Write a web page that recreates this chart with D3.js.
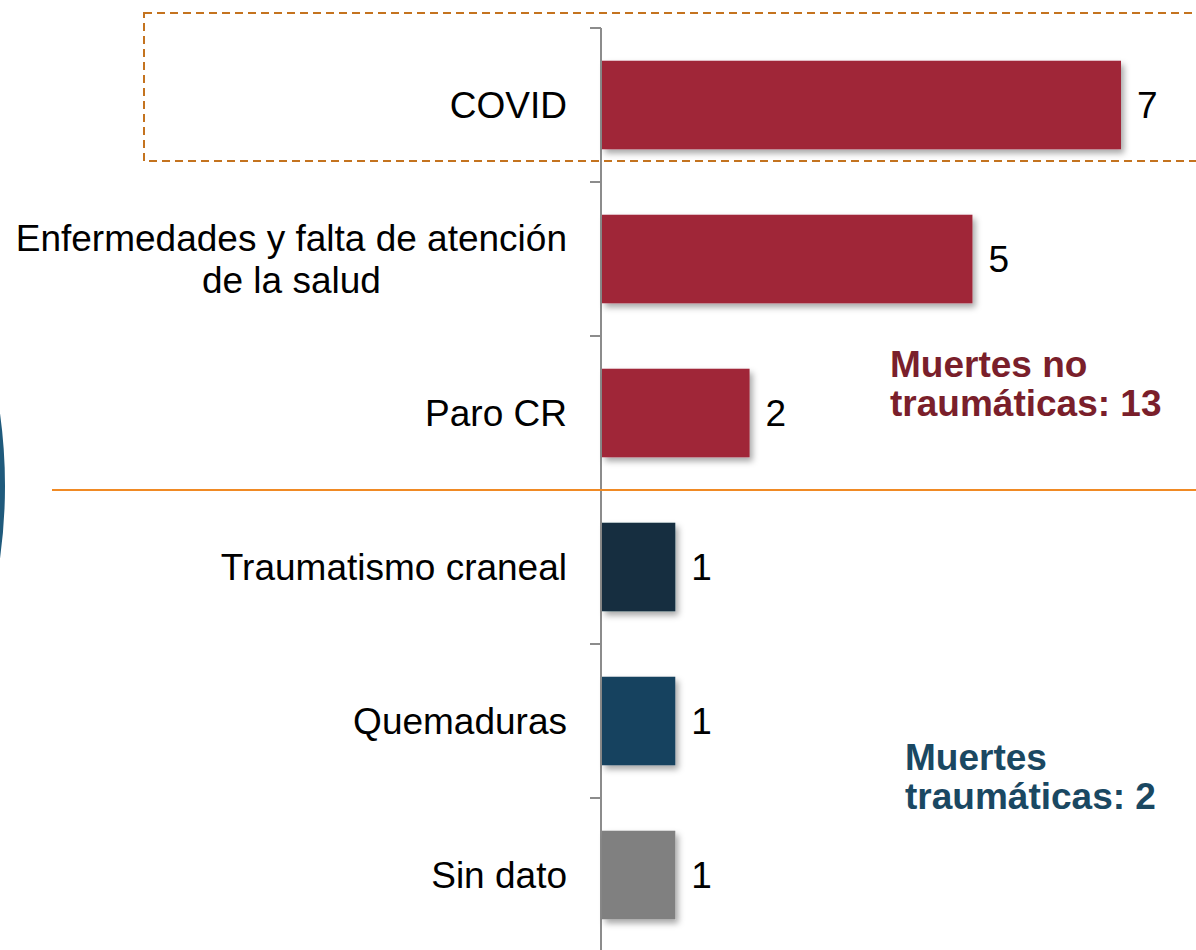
<!DOCTYPE html>
<html lang="es">
<head>
<meta charset="UTF-8">
<title>Causas de muerte</title>
<script src="https://d3js.org/d3.v7.min.js"></script>
<style>
  body { margin: 0; background: #fff; }
  svg text { font-family: "Liberation Sans", Arial, sans-serif; }
</style>
</head>
<body>
<div id="chart"></div>
<script>
// data
const causes = ["COVID", "Enfermedades y falta de atención\nde la salud", "Paro CR",
                "Traumatismo craneal", "Quemaduras", "Sin dato"];
const deaths = [7, 5, 2, 1, 1, 1];
const barColors = ["#a02838", "#a02838", "#a02838", "#122d40", "#17435e", "#808080"];
const groupNotes = [
  { lines: ["Muertes no", "traumáticas: 13"], color: "#7a1f2b", x: 890, y: 377 },
  { lines: ["Muertes", "traumáticas: 2"], color: "#1a4862", x: 905, y: 770 }
];

const width = 1196, height = 950;
const axisX = 601;

const svg = d3.select("#chart").append("svg")
  .attr("width", width).attr("height", height);

// shadow for bars
const defs = svg.append("defs");
const f = defs.append("filter").attr("id", "shadow")
  .attr("x", "-10%").attr("y", "-10%").attr("width", "130%").attr("height", "130%");
f.append("feDropShadow").attr("dx", 3).attr("dy", 4).attr("stdDeviation", 3)
  .attr("flood-color", "#000").attr("flood-opacity", 0.35);

const y = d3.scaleBand().domain(causes).range([28, 28 + 154 * causes.length]).padding(0);
const x = d3.scaleLinear().domain([0, 7]).range([axisX, 1121]);

// blue arc at the left edge (edge of a shape off the page)
svg.append("circle")
  .attr("cx", -518).attr("cy", 486).attr("r", 520)
  .attr("fill", "none").attr("stroke", "#1f5a7c").attr("stroke-width", 6);

// dashed highlight box around COVID
svg.append("rect")
  .attr("x", 144).attr("y", 13).attr("width", 1070).attr("height", 148)
  .attr("fill", "none").attr("stroke", "#c4731f").attr("stroke-width", 2)
  .attr("stroke-dasharray", "8,5");

// axis
const axis = svg.append("g").attr("transform", `translate(${axisX},0)`);
axis.append("line").attr("y1", 28).attr("y2", height)
  .attr("stroke", "#8c8c8c").attr("stroke-width", 2);
axis.selectAll(".tick").data(d3.range(causes.length + 1)).join("line")
  .attr("x1", -11).attr("x2", 0)
  .attr("y1", i => 28 + y.step() * i).attr("y2", i => 28 + y.step() * i)
  .attr("stroke", "#8c8c8c").attr("stroke-width", 2);

// bars
const barH = y.bandwidth() * 0.575;
svg.selectAll(".bar").data(deaths).join("rect")
  .attr("x", x(0) + 1)
  .attr("y", (d, i) => y(causes[i]) + (y.bandwidth() - barH) / 2)
  .attr("width", d => x(d) - x(0) - 1)
  .attr("height", barH)
  .attr("fill", (d, i) => barColors[i])
  .attr("filter", "url(#shadow)");

// values
svg.selectAll(".val").data(deaths).join("text")
  .attr("x", d => x(d) + 16)
  .attr("y", (d, i) => y(causes[i]) + y.bandwidth() / 2 + 13)
  .attr("font-size", 37).attr("fill", "#000")
  .text(d => d);

// category labels
causes.forEach((c, i) => {
  const lines = c.split("\n");
  const cy = y(c) + y.bandwidth() / 2;
  const t = svg.append("text").attr("font-size", 37).attr("fill", "#000");
  lines.forEach((l, j) => {
    t.append("tspan").attr("y", cy + 13 + (j - (lines.length - 1) / 2) * 42).text(l);
  });
  const w = d3.max(t.selectAll("tspan").nodes(), n => n.getComputedTextLength());
  t.attr("text-anchor", "middle").selectAll("tspan").attr("x", 567 - w / 2);
});

// separator
svg.append("line").attr("x1", 52).attr("x2", width).attr("y1", 490).attr("y2", 490)
  .attr("stroke", "#f08a24").attr("stroke-width", 2);

// group notes
groupNotes.forEach(n => {
  const t = svg.append("text").attr("font-size", 37).attr("font-weight", "bold")
    .attr("fill", n.color);
  n.lines.forEach((l, j) => t.append("tspan").attr("x", n.x).attr("y", n.y + j * 39).text(l));
});
</script>
</body>
</html>
